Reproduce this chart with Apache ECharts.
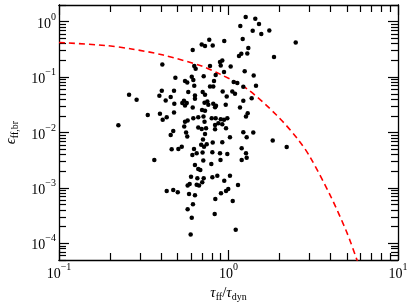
<!DOCTYPE html>
<html><head><meta charset="utf-8">
<script src="https://cdn.jsdelivr.net/npm/echarts@6/dist/echarts.min.js"></script>
<style>html,body{margin:0;padding:0;background:#fff}#c{width:416px;height:306px}</style>
</head><body><div id="c"></div>
<script>
// tau_ff / tau_dyn (x) and epsilon_ff,br (y)
const tauRatio = [0.407,0.615,0.695,0.628,0.640,0.486,0.607,0.620,0.554,0.571,0.714,1.263,1.439,1.513,1.174,1.389,1.561,1.741,2.492,1.213,
0.770,0.807,0.727,0.944,1.309,1.190,1.153,1.291,1.855,0.919,0.891,0.900,0.778,1.030,1.246,0.941,1.408,0.840,0.821,1.073,
1.127,0.778,0.813,1.223,1.453,0.628,0.404,0.477,0.579,0.259,0.287,0.391,0.456,0.426,0.634,0.634,0.546,0.534,0.567,0.554,
0.722,0.479,0.615,0.698,0.394,0.334,0.477,0.432,0.409,0.224,0.620,0.663,0.574,0.554,0.548,0.712,0.722,0.663,0.695,0.562,
0.571,0.472,0.456,0.707,0.690,0.717,0.530,0.506,0.462,0.626,0.649,0.612,0.703,0.365,0.634,0.704,0.727,0.924,0.976,1.053,
1.092,1.223,1.370,1.169,0.760,0.750,0.813,0.844,0.833,0.963,0.727,1.298,1.268,0.796,0.840,0.900,0.941,0.984,0.871,0.919,
0.967,0.833,0.833,0.737,0.727,1.223,1.280,1.400,1.020,0.744,0.807,0.919,1.823,2.205,1.196,0.803,0.891,0.984,1.268,1.280,
1.196,0.897,0.792,0.710,0.663,0.682,0.601,0.655,0.714,0.574,0.590,0.649,0.670,0.700,0.432,0.472,0.502,0.585,0.634,0.617,
0.574,0.607,0.598,0.803,0.859,1.020,0.944,1.138,0.997,0.967,0.903,0.836,1.059,0.829,1.103];
const epsBr = [0.169,0.308,0.389,0.158,0.141,0.0971,0.101,0.0883,0.0847,0.0799,0.104,1.216,1.133,0.909,0.836,0.688,0.599,0.696,0.422,0.487,
0.473,0.373,0.364,0.448,0.335,0.264,0.240,0.267,0.230,0.1996,0.187,0.162,0.158,0.155,0.128,0.123,0.107,0.109,0.0847,0.0812,
0.0779,0.0676,0.0676,0.0668,0.0696,0.0696,0.0565,0.0565,0.0536,0.0479,0.0389,0.0459,0.0435,0.0377,0.0465,0.0405,0.0373,0.0339,0.0339,0.0306,
0.0346,0.0329,0.0282,0.0256,0.0217,0.0208,0.0229,0.0189,0.0169,0.01355,0.0181,0.0189,0.0164,0.0157,0.0128,0.0194,0.0157,0.01227,0.01162,0.00996,
0.00843,0.01069,0.00905,0.0075,0.00604,0.00556,0.00556,0.00505,0.00499,0.00505,0.00422,0.00393,0.00437,0.00320,0.00260,0.0536,0.0479,0.0549,0.0446,0.0549,
0.0499,0.0373,0.0417,0.0282,0.0316,0.0362,0.0329,0.0303,0.0287,0.0316,0.0246,0.0223,0.0194,0.0181,0.0181,0.0174,0.0169,0.0181,0.0147,0.0141,
0.01196,0.0137,0.01147,0.01196,0.00943,0.01013,0.00822,0.00996,0.00822,0.00614,0.00657,0.00668,0.00714,0.00549,0.0052,0.0044,0.00422,0.0041,0.00422,0.00352,
0.0032,0.0032,0.0027,0.00313,0.0022,0.00211,0.00159,0.00149,0.00149,0.0011,0.00118,0.00114,0.0011,0.00126,0.000879,0.000916,0.000832,0.000776,0.000735,0.000505,
0.00041,0.000289,0.000145,0.00155,0.00166,0.00166,0.00135,0.00113,0.000955,0.000879,0.000799,0.00063,0.00058,0.000337,0.000175];

// red dashed model curve
const curveX = [0.1, 0.187, 0.268, 0.412, 0.695, 0.891, 1.28, 1.925, 2.58, 3.03, 3.97, 4.98, 5.73, 6.3];
const curveY = [0.422, 0.372, 0.322, 0.25, 0.158, 0.113, 0.062, 0.0205, 0.0074, 0.0036, 0.00075, 0.00016, 0.00005, 0.000022];

const xRange = [0.1, 10];
const yRange = [5e-5, 2];
const xMajorTicks = [0.1, 1, 10];
const xMinorTicks = [0.2,0.3,0.4,0.5,0.6,0.7,0.8,0.9,2,3,4,5,6,7,8,9];
const yMajorTicks = [1e-4, 1e-3, 1e-2, 1e-1, 1];
const yMinorTicks = [5e-5,6e-5,7e-5,8e-5,9e-5,
  2e-4,3e-4,4e-4,5e-4,6e-4,7e-4,8e-4,9e-4,
  2e-3,3e-3,4e-3,5e-3,6e-3,7e-3,8e-3,9e-3,
  2e-2,3e-2,4e-2,5e-2,6e-2,7e-2,8e-2,9e-2,
  0.2,0.3,0.4,0.5,0.6,0.7,0.8,0.9,2];

const SERIF = '"Liberation Serif","DejaVu Serif",serif';
const lineStyle = {color:'#000', width:1.3};
const tickStyle = {color:'#000', width:1.2};
const MAJ = 10, MIN = 7;
const W = 416, H = 306, XL = 59, XR = 18, YT = 5, YB = 46;
const lg = Math.log10;

function powLabel(v){
  const e = Math.round(Math.log10(v));
  return '{b|10}{s|' + (e < 0 ? '\u2212' + (-e) : String(e)) + '}';
}
const labelRich = {
  b:{fontFamily:SERIF, fontSize:14, color:'#000', verticalAlign:'top', padding:[5,0,0,0]},
  s:{fontFamily:SERIF, fontSize:10, color:'#000', verticalAlign:'top'}
};

// data axes (log scale): carry the series, labels, names and the frame
const grids = [{left:XL, right:XR, top:YT, bottom:YB, containLabel:false, outerBoundsMode:'none'}];
const xAxes = [{
  type:'log', logBase:10, min:xRange[0], max:xRange[1], position:'bottom', gridIndex:0,
  axisLine:{show:true, onZero:false, lineStyle}, axisTick:{show:false},
  axisLabel:{show:true, customValues:xMajorTicks, formatter:powLabel, rich:labelRich, margin:2, hideOverlap:false},
  splitLine:{show:false},
  name:'{t|\u03c4}{u|ff}{n|/}{t|\u03c4}{u|dyn}', nameLocation:'middle', nameGap:24,
  nameTextStyle:{rich:{
    t:{fontFamily:SERIF, fontStyle:'italic', fontSize:15, color:'#000', verticalAlign:'top'},
    n:{fontFamily:SERIF, fontSize:15, color:'#000', verticalAlign:'top'},
    u:{fontFamily:SERIF, fontSize:10, color:'#000', verticalAlign:'top', padding:[6,0,0,0]}
  }}
}, {type:'log', min:xRange[0], max:xRange[1], position:'top', gridIndex:0,
  axisLine:{show:true, onZero:false, lineStyle}, axisTick:{show:false}, axisLabel:{show:false}, splitLine:{show:false}}];
const yAxes = [{
  type:'log', logBase:10, min:yRange[0], max:yRange[1], position:'left', gridIndex:0,
  axisLine:{show:true, onZero:false, lineStyle}, axisTick:{show:false},
  axisLabel:{show:true, customValues:yMajorTicks, formatter:powLabel, rich:labelRich, margin:3, hideOverlap:false},
  splitLine:{show:false},
  name:'{e|\u03f5}{u|ff,br}', nameLocation:'middle', nameGap:39, nameRotate:90,
  nameTextStyle:{rich:{
    e:{fontFamily:SERIF, fontStyle:'italic', fontSize:15, color:'#000', verticalAlign:'top'},
    u:{fontFamily:SERIF, fontSize:10, color:'#000', verticalAlign:'top', padding:[6,0,0,0]}
  }}
}, {type:'log', min:yRange[0], max:yRange[1], position:'right', gridIndex:0,
  axisLine:{show:true, onZero:false, lineStyle}, axisTick:{show:false}, axisLabel:{show:false}, splitLine:{show:false}}];

// tick marks: each decade-periodic family of tick values gets its own small grid whose
// edges sit on the first and last value; a plain value axis with interval 1 then puts
// an inward tick on every value of the family.
const xDec = (W - XR - XL) / (lg(xRange[1]) - lg(xRange[0]));
const yDec = (H - YB - YT) / (lg(yRange[1]) - lg(yRange[0]));
const xPix = v => XL + (lg(v) - lg(xRange[0])) * xDec;
const yPix = v => YT + (lg(yRange[1]) - lg(v)) * yDec;
function families(vals){
  const m = {};
  vals.forEach(v => { const k = Math.round(v / Math.pow(10, Math.floor(lg(v) + 1e-9))); (m[k] = m[k] || []).push(v); });
  return Object.values(m).map(a => a.sort((p, q) => p - q));
}
const clearLabel = {show:true, inside:true, color:'rgba(0,0,0,0)', fontSize:6, margin:12, formatter:() => '.'};
function tickValAxis(pos, gi, n, len){
  return {type:'value', min:0, max:n, interval:1, position:pos, gridIndex:gi,
    axisLine:{show:true, lineStyle:{color:'#000', width:1}},
    axisTick:{show:true, inside:true, length:len, lineStyle:tickStyle},
    axisLabel:clearLabel, splitLine:{show:false}};
}
const dummy = gi => ({type:'value', min:1, max:2, gridIndex:gi, show:false});
function addXFamily(vals, len){
  const gi = grids.length;
  grids.push({left:xPix(vals[0]), right:W - xPix(vals[vals.length - 1]), top:YT, bottom:YB, containLabel:false});
  xAxes.push(tickValAxis('bottom', gi, vals.length - 1, len), tickValAxis('top', gi, vals.length - 1, len));
  yAxes.push(dummy(gi));
}
function addYFamily(vals, len){
  const gi = grids.length;
  grids.push({left:XL, right:XR, top:yPix(vals[vals.length - 1]), bottom:H - yPix(vals[0]), containLabel:false});
  yAxes.push(tickValAxis('left', gi, vals.length - 1, len), tickValAxis('right', gi, vals.length - 1, len));
  xAxes.push(dummy(gi));
}
families(xMajorTicks).forEach(f => addXFamily(f, MAJ));
families(xMinorTicks).forEach(f => addXFamily(f, MIN));
families(yMajorTicks).forEach(f => addYFamily(f, MAJ));
families(yMinorTicks).forEach(f => addYFamily(f, MIN));

const chart = echarts.init(document.getElementById('c'), null, {renderer:'canvas'});
chart.setOption({
  animation:false,
  backgroundColor:'#fff',
  grid:grids,
  xAxis:xAxes,
  yAxis:yAxes,
  series:[
    {type:'line', xAxisIndex:0, yAxisIndex:0, data: curveX.map((x,i)=>[x, curveY[i]]),
     smooth:0.3, showSymbol:false, clip:true,
     lineStyle:{color:'#ff0000', width:1.6, type:[6,4]}, z:3},
    {type:'scatter', xAxisIndex:0, yAxisIndex:0, data: tauRatio.map((x,i)=>[x, epsBr[i]]),
     symbol:'circle', symbolSize:4.5, itemStyle:{color:'#000', opacity:1}, z:4}
  ]
});
</script>
</body></html>
